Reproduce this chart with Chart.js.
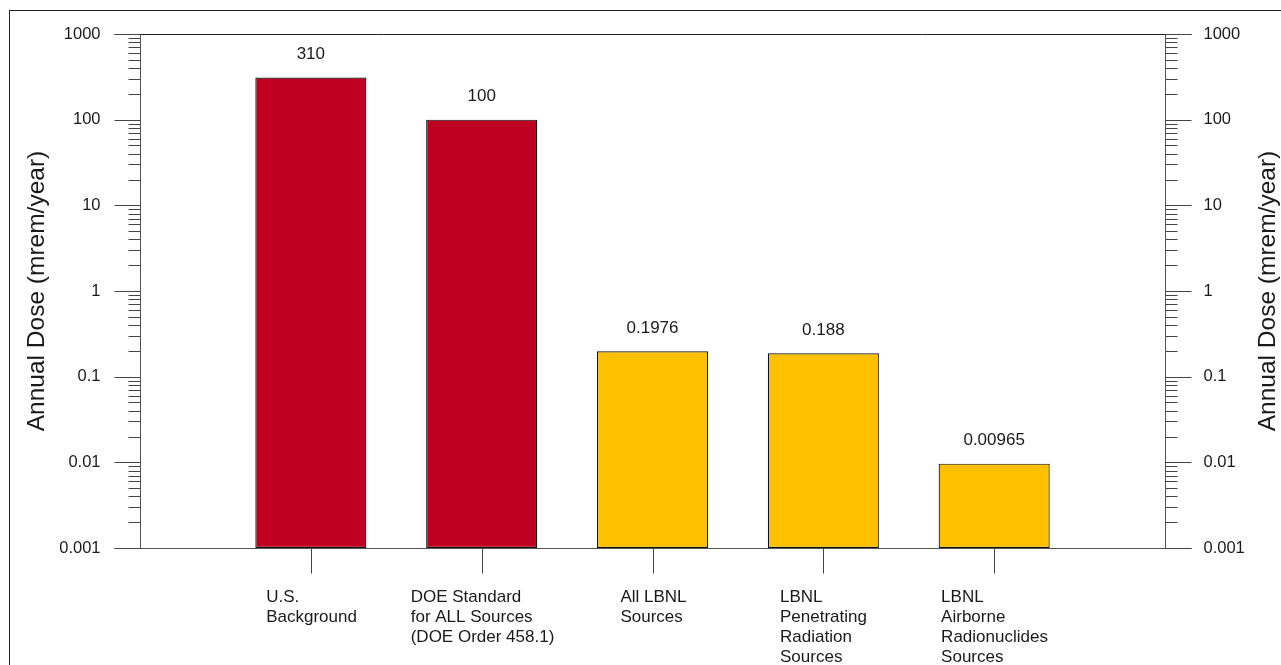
<!DOCTYPE html>
<html>
<head>
<meta charset="utf-8">
<script src="https://cdn.jsdelivr.net/npm/chart.js@4/dist/chart.umd.min.js"></script>
<style>
    html, body { margin: 0; padding: 0; background: #fff; }
    #wrap { width: 1281px; height: 665px; position: relative; }
</style>
</head>
<body>
<div id="wrap"><canvas id="doseChart"></canvas></div>
<script>
// 데이터
const categories = [
    ['U.S.', 'Background'],
    ['DOE Standard', 'for ALL Sources', '(DOE Order 458.1)'],
    ['All LBNL', 'Sources'],
    ['LBNL', 'Penetrating', 'Radiation', 'Sources'],
    ['LBNL', 'Airborne', 'Radionuclides', 'Sources']
];
const doseValues = [310, 100, 0.1976, 0.188, 0.00965];
const valueLabels = ['310', '100', '0.1976', '0.188', '0.00965'];
const barColors = ['#C00020', '#C00020', '#FFC000', '#FFC000', '#FFC000'];
const yTickValues = [0.001, 0.01, 0.1, 1, 10, 100, 1000];
const yTickLabels = ['0.001', '0.01', '0.1', '1', '10', '100', '1000'];
const axisTitle = 'Annual Dose (mrem/year)';

const FONT = '"Liberation Sans", Arial, sans-serif';

// 축, 눈금, 라벨 직접 그리기
const axisPlugin = {
    id: 'axisPlugin',
    afterDraw(chart) {
        const ctx = chart.ctx;
        const xs = chart.scales.x;
        const ys = chart.scales.y;
        const area = chart.chartArea;
        ctx.save();

        // 바깥 테두리
        ctx.strokeStyle = '#222';
        ctx.lineWidth = 1;
        ctx.strokeRect(9.5, 10.5, 1300, 700);

        const L = Math.round(area.left) + 0.5;
        const R = Math.round(area.right) + 0.5;
        const T = Math.round(area.top) + 0.5;
        const B = Math.round(area.bottom) + 0.5;

        // 위 / 아래 선
        ctx.strokeStyle = '#222';
        ctx.beginPath();
        ctx.moveTo(L - 26, T); ctx.lineTo(R + 26, T);
        ctx.stroke();
        ctx.strokeStyle = '#555';
        ctx.beginPath();
        ctx.moveTo(L - 26, B); ctx.lineTo(R + 26, B);
        ctx.moveTo(L, T); ctx.lineTo(L, B);
        ctx.moveTo(R, T); ctx.lineTo(R, B);
        ctx.stroke();

        // 로그 눈금 (주/보조)
        ctx.strokeStyle = '#444';
        ctx.beginPath();
        for (let d = 0; d < yTickValues.length - 1; d++) {
            for (let m = 2; m <= 9; m++) {
                const y = Math.round(ys.getPixelForValue(yTickValues[d] * m)) + 0.5;
                ctx.moveTo(L - 12, y); ctx.lineTo(L, y);
                ctx.moveTo(R, y); ctx.lineTo(R + 12, y);
            }
        }
        yTickValues.forEach(v => {
            const y = Math.round(ys.getPixelForValue(v)) + 0.5;
            ctx.moveTo(L - 26, y); ctx.lineTo(L, y);
            ctx.moveTo(R, y); ctx.lineTo(R + 26, y);
        });
        ctx.stroke();

        // y 눈금 라벨
        ctx.fillStyle = '#1a1a1a';
        ctx.font = '16.5px ' + FONT;
        ctx.textBaseline = 'middle';
        yTickValues.forEach((v, i) => {
            const y = ys.getPixelForValue(v);
            ctx.textAlign = 'right';
            ctx.fillText(yTickLabels[i], L - 40, y);
            ctx.textAlign = 'left';
            ctx.fillText(yTickLabels[i], R + 38, y);
        });

        // x 눈금 + 카테고리 라벨 (왼쪽 정렬, 블록 가운데)
        ctx.strokeStyle = '#444';
        ctx.font = '17px ' + FONT;
        ctx.textAlign = 'left';
        ctx.textBaseline = 'alphabetic';
        categories.forEach((lines, i) => {
            const x = Math.round(xs.getPixelForValue(i + 1)) + 0.5;
            ctx.beginPath();
            ctx.moveTo(x, B); ctx.lineTo(x, B + 25);
            ctx.stroke();
            const w = Math.max(...lines.map(s => ctx.measureText(s).width));
            lines.forEach((s, j) => {
                ctx.fillText(s, x - w / 2, B + 53 + j * 20);
            });
        });

        // 값 라벨
        ctx.textAlign = 'center';
        ctx.textBaseline = 'middle';
        doseValues.forEach((v, i) => {
            const x = xs.getPixelForValue(i + 1);
            const y = ys.getPixelForValue(v);
            ctx.fillText(valueLabels[i], x, y - 23);
        });

        // 축 제목
        ctx.font = '24.5px ' + FONT;
        const cy = (area.top + area.bottom) / 2;
        ctx.save();
        ctx.translate(37, cy);
        ctx.rotate(-Math.PI / 2);
        ctx.fillText(axisTitle, 0, 0);
        ctx.restore();
        ctx.save();
        ctx.translate(1268, cy);
        ctx.rotate(-Math.PI / 2);
        ctx.fillText(axisTitle, 0, 0);
        ctx.restore();

        ctx.restore();
    }
};

const ctx = document.getElementById('doseChart').getContext('2d');
new Chart(ctx, {
    type: 'bar',
    data: {
        datasets: [{
            data: doseValues.map((v, i) => ({ x: i + 1, y: v })),
            backgroundColor: barColors,
            borderColor: '#111',
            borderWidth: 1.2,
            borderSkipped: false,
            barPercentage: 0.65,
            categoryPercentage: 1
        }]
    },
    options: {
        responsive: true,
        maintainAspectRatio: false,
        animation: false,
        layout: { padding: { left: 140, right: 116, top: 34, bottom: 117 } },
        plugins: { legend: { display: false }, tooltip: { enabled: false } },
        scales: {
            x: { type: 'linear', min: 0, max: 6, offset: false, display: false },
            y: { type: 'logarithmic', min: 0.001, max: 1000, display: false }
        }
    },
    plugins: [axisPlugin]
});
</script>
</body>
</html>
